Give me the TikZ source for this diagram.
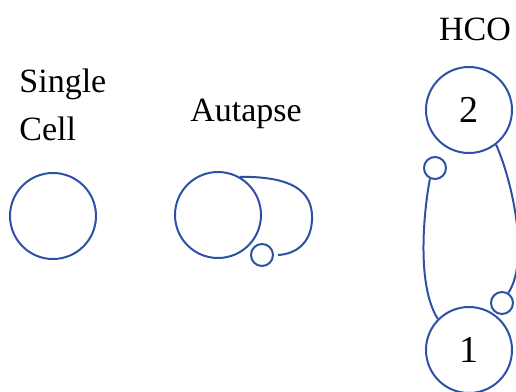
\documentclass[tikz,border=0pt]{standalone}
\usepackage{fontspec}
\setmainfont{Liberation Serif}
\usetikzlibrary{positioning}
\definecolor{cellblue}{HTML}{2D51A3}

\begin{document}
\begin{tikzpicture}[
  x=0.5pt, y=-0.5pt,
  cell/.style={circle, draw=cellblue, line width=1pt, minimum size=43pt, inner sep=0pt,
    font=\fontsize{19}{20}\selectfont},
  synapse/.style={circle, draw=cellblue, line width=1pt, minimum size=11pt, inner sep=0pt},
  link/.style={draw=cellblue, line width=1pt},
  label/.style={font=\fontsize{17}{24}\selectfont, text=black, inner xsep=0pt},
]

% Frame
\useasboundingbox (0,0) rectangle (516,392);

% === Single cell ===
\node[label, anchor=base west, align=left] (lsingle) at (19,140) {Single\\Cell};
\node[cell] (single) at (53,216) {};

% === Autapse ===
\node[label, anchor=base] (lautapse) at (246,121) {Autapse};
\node[cell] (auto) at (218,215) {};
\node[synapse] (autosyn) at (262,255) {};
\draw[link] (auto.60) .. controls (302,176) and (313,198) .. (312,220)
  .. controls (311,243) and (296,254) .. ([xshift=2pt]autosyn.east);

% === HCO ===
\node[label, anchor=base] (lhco) at (475,40) {HCO};
\node[cell] (two) at (469,110) {2};
\node[cell] (one) at (469,350) {1};
\node[synapse] (syntwo) at (435,168) {};
\node[synapse] (synone) at (502,303) {};
\draw[link] (syntwo.-115) .. controls (424,210) and (416,285) .. (one.135);
\draw[link] (two.-52) .. controls (512,180) and (530,260) .. (synone.58);

\end{tikzpicture}
\end{document}
